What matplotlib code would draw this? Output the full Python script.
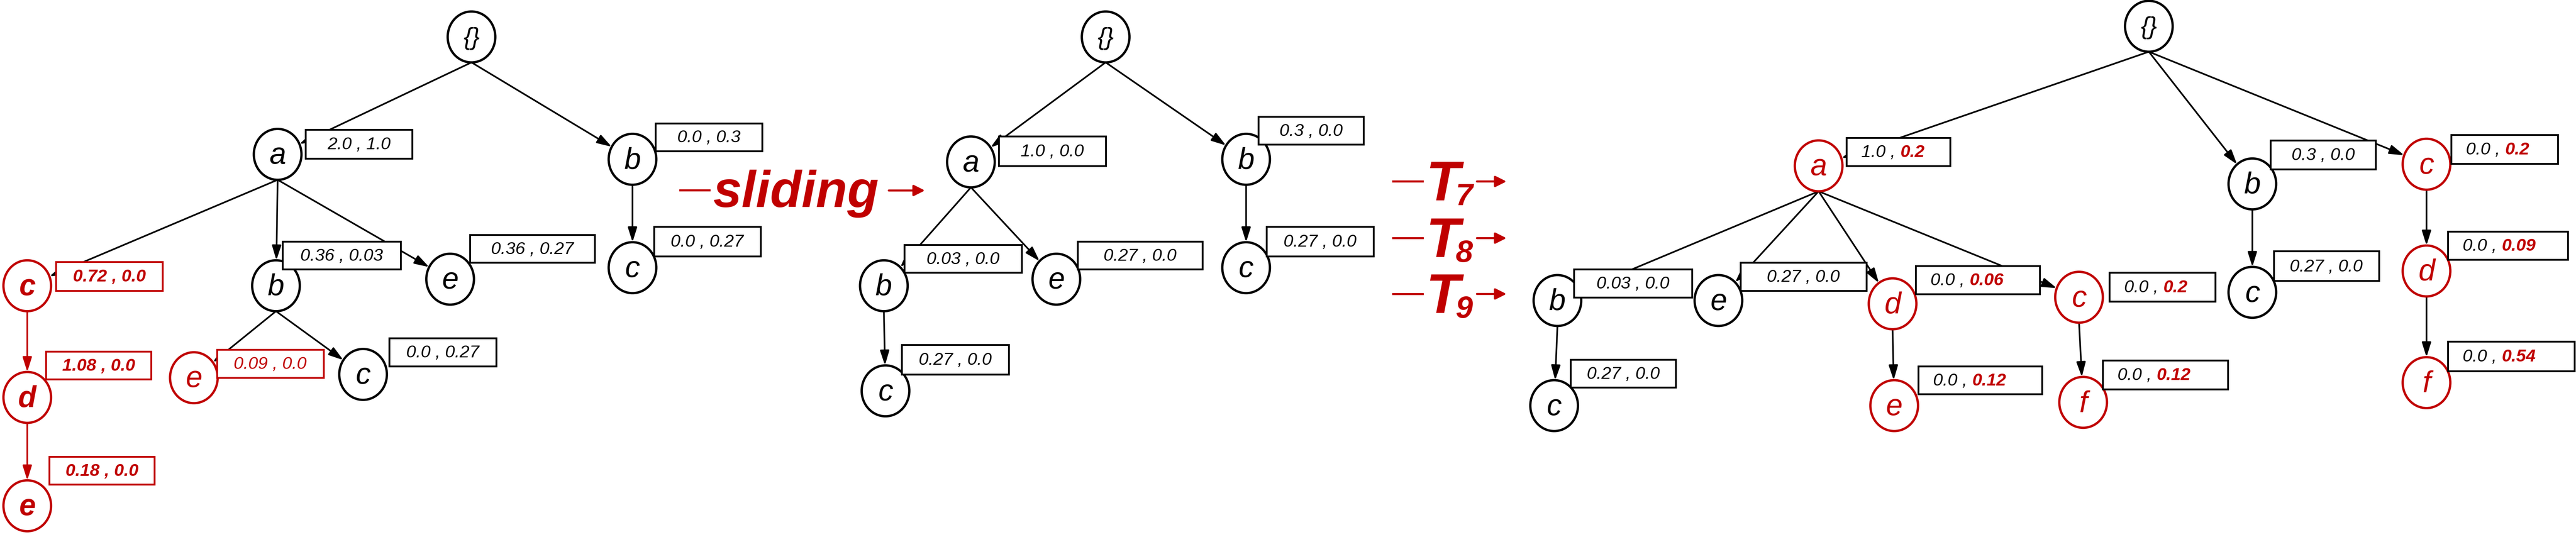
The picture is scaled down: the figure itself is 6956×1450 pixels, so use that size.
import numpy as np
import matplotlib
matplotlib.use("Agg")
import matplotlib.pyplot as plt
from matplotlib import font_manager
from matplotlib.patches import Ellipse, Rectangle

RED = "#c00000"

# narrow italic face like the original drawing, if installed
try:
    font_manager.findfont("Liberation Sans Narrow", fallback_to_default=False)
    NARROW = "Liberation Sans Narrow"
except Exception:
    NARROW = "Liberation Sans"

# ---- tree 1 (before sliding) ----
t1_labels = ["{}", "a", "b", "c", "b", "e", "c", "d", "e", "c", "e"]
t1_x = [287, 169, 385, 16.6, 168, 274, 385, 16.6, 118, 221, 16.6]
t1_y = [22.5, 94, 97, 174, 174, 170, 163, 242, 230, 228, 308]
t1_node_style = ["k", "k", "k", "rb", "k", "k", "k", "rb", "r", "k", "rb"]
t1_vals = [None, ("2.0", "1.0"), ("0.0", "0.3"), ("0.72", "0.0"), ("0.36", "0.03"),
           ("0.36", "0.27"), ("0.0", "0.27"), ("1.08", "0.0"), ("0.09", "0.0"),
           ("0.0", "0.27"), ("0.18", "0.0")]
t1_box_style = [None, "k", "k", "rb", "k", "k", "k", "rb", "r", "k", "rb"]
t1_boxes = [None, (186, 79, 65, 17.5), (399, 75, 65, 17), (34, 159.5, 65, 17.5),
            (172, 147, 72, 17), (286, 143, 76, 17), (398, 138, 65, 18),
            (28, 214, 64, 17), (132, 213, 65, 17), (237, 206, 65, 17), (30, 278, 64, 17)]
t1_edges = [(0, 1, "k"), (0, 2, "k"), (1, 3, "k"), (1, 4, "k"), (1, 5, "k"), (2, 6, "k"),
            (3, 7, "r"), (7, 10, "r"), (4, 8, "k"), (4, 9, "k")]

# ---- tree 2 (after sliding) ----
t2_labels = ["{}", "a", "b", "b", "e", "c", "c"]
t2_x = [673, 591, 758.5, 538, 643, 758.5, 539]
t2_y = [22.5, 98.6, 97, 174, 170, 163, 238]
t2_node_style = ["k"] * 7
t2_vals = [None, ("1.0", "0.0"), ("0.3", "0.0"), ("0.03", "0.0"), ("0.27", "0.0"),
           ("0.27", "0.0"), ("0.27", "0.0")]
t2_box_style = [None] + ["k"] * 6
t2_boxes = [None, (608, 83, 65, 18), (766, 71, 64, 17), (550.5, 149, 71.5, 17),
            (656, 147, 76, 17), (771, 138, 65, 18), (549, 210, 65, 18)]
t2_edges = [(0, 1, "k"), (0, 2, "k"), (1, 3, "k"), (1, 4, "k"), (2, 5, "k"), (3, 6, "k")]

# ---- tree 3 (after T7, T8, T9) ----
t3_labels = ["{}", "a", "b", "c", "b", "e", "d", "c", "c", "d", "c", "e", "f", "f"]
t3_x = [1308, 1107, 1371, 1477, 948, 1046, 1152, 1265.5, 1371, 1477, 946, 1153, 1268, 1477]
t3_y = [16, 101, 112, 100, 183, 183, 185, 181, 178, 165, 247, 247, 245, 233]
t3_node_style = ["k", "r", "k", "r", "k", "k", "r", "r", "k", "r", "k", "r", "r", "r"]
t3_vals = [None, ("1.0", "0.2"), ("0.3", "0.0"), ("0.0", "0.2"), ("0.03", "0.0"),
           ("0.27", "0.0"), ("0.0", "0.06"), ("0.0", "0.2"), ("0.27", "0.0"),
           ("0.0", "0.09"), ("0.27", "0.0"), ("0.0", "0.12"), ("0.0", "0.12"), ("0.0", "0.54")]
t3_box_style = [None, "m", "k", "m", "k", "k", "m", "m", "k", "m", "k", "m", "m", "m"]
t3_boxes = [None, (1124, 84, 63, 17), (1382, 85.5, 64, 17.5), (1492, 82, 65, 17.7),
            (958, 164, 72, 17), (1059.5, 160, 76.5, 17), (1166, 162, 75.5, 17),
            (1284, 166, 64.5, 17.5), (1384, 153, 64, 18), (1490, 141, 73, 17),
            (956, 219, 64, 17), (1167.6, 223, 75.4, 17), (1280, 219.5, 76, 17.5),
            (1490, 208, 77, 18)]
t3_edges = [(0, 1, "k"), (0, 2, "k"), (0, 3, "k"), (1, 4, "k"), (1, 5, "k"), (1, 6, "k"),
            (1, 7, "k"), (2, 8, "k"), (3, 9, "k"), (9, 13, "k"), (4, 10, "k"),
            (6, 11, "k"), (7, 12, "k")]

window_steps = ["7", "8", "9"]
step_y = [110.5, 145, 179]

RX, RY = 14.5, 15.5

fig = plt.figure(figsize=(69.56, 14.5), dpi=100)
ax = fig.add_axes([0, 0, 1, 1])
ax.set_xlim(0, 1568)
ax.set_ylim(327, 0)
ax.axis("off")


def col(s):
    return RED if s.startswith("r") or s == "m" else "black"


def edge_pts(p, c):
    x0, y0 = p[0], p[1] + RY
    dx, dy = c[0] - x0, c[1] - y0
    # point on the child's ellipse facing the parent
    t = 1.0 / np.sqrt((dx / RX) ** 2 + (dy / RY) ** 2)
    return (x0, y0), (c[0] - dx * t, c[1] - dy * t)


def draw_tree(labels, xs, ys, nstyle, vals, bstyle, boxes, edges):
    for i, j, c in edges:
        a, b = edge_pts((xs[i], ys[i]), (xs[j], ys[j]))
        color = RED if c == "r" else "black"
        ax.annotate("", xy=b, xytext=a,
                    arrowprops=dict(arrowstyle="-|>,head_length=2.4,head_width=0.75",
                                    lw=3.2, color=color, shrinkA=0, shrinkB=0,
                                    mutation_scale=10))
    for k, lab in enumerate(labels):
        color = col(nstyle[k])
        ax.add_patch(Ellipse((xs[k], ys[k]), 2 * RX, 2 * RY, fc="white",
                             ec=color, lw=4.5, zorder=3))
        ax.text(xs[k], ys[k] + 1, lab, color=color, fontsize=58 if lab != "{}" else 48,
                style="italic", fontweight="bold" if nstyle[k] == "rb" else "normal",
                family=[NARROW, "DejaVu Sans"], ha="center", va="center", zorder=4)
        if vals[k] is None:
            continue
        bx, by, bw, bh = boxes[k]
        s = bstyle[k]
        ax.add_patch(Rectangle((bx, by), bw, bh, fc="white",
                               ec=RED if s.startswith("r") else "black",
                               lw=3.5, zorder=3))
        v1, v2 = vals[k]
        fam = [NARROW, "DejaVu Sans"]
        if s == "m":
            t1 = ax.text(bx + 9, by + bh / 2 + 0.5, v1 + " , ", fontsize=34, style="italic",
                         family=fam, ha="left", va="center", zorder=4)
            ax.annotate(v2, xy=(1, 0), xycoords=t1, va="bottom", ha="left",
                        fontsize=34, style="italic", fontweight="bold", color=RED,
                        family=fam, zorder=4)
        else:
            ax.text(bx + bw / 2, by + bh / 2 + 0.5, v1 + " , " + v2, fontsize=34,
                    style="italic", family=fam, ha="center", va="center",
                    color=RED if s.startswith("r") else "black",
                    fontweight="bold" if s == "rb" else "normal", zorder=4)


draw_tree(t1_labels, t1_x, t1_y, t1_node_style, t1_vals, t1_box_style, t1_boxes, t1_edges)
draw_tree(t2_labels, t2_x, t2_y, t2_node_style, t2_vals, t2_box_style, t2_boxes, t2_edges)
draw_tree(t3_labels, t3_x, t3_y, t3_node_style, t3_vals, t3_box_style, t3_boxes, t3_edges)

# sliding arrow
ax.plot([414, 432], [116, 116], color=RED, lw=4)
ax.text(434, 126, "sliding", color=RED, fontsize=100, style="italic", fontweight="bold",
        family="Liberation Sans", ha="left", va="baseline")
ax.annotate("", xy=(563, 116), xytext=(541, 116),
            arrowprops=dict(arrowstyle="-|>,head_length=1.8,head_width=0.9", lw=4,
                            color=RED, shrinkA=0, shrinkB=0, mutation_scale=10))

# window steps T7, T8, T9
for s, yy in zip(window_steps, step_y):
    ax.plot([848, 866], [yy, yy], color=RED, lw=4)
    ax.text(868, yy + 11.5, "T", color=RED, fontsize=108, style="italic", fontweight="bold",
            family="Liberation Sans", ha="left", va="baseline")
    ax.text(886, yy + 14.5, s, color=RED, fontsize=60, style="italic", fontweight="bold",
            family="Liberation Sans", ha="left", va="baseline")
    ax.annotate("", xy=(917, yy), xytext=(899, yy),
                arrowprops=dict(arrowstyle="-|>,head_length=1.8,head_width=0.9", lw=4,
                                color=RED, shrinkA=0, shrinkB=0, mutation_scale=10))

fig.savefig("out.png", dpi=100)
